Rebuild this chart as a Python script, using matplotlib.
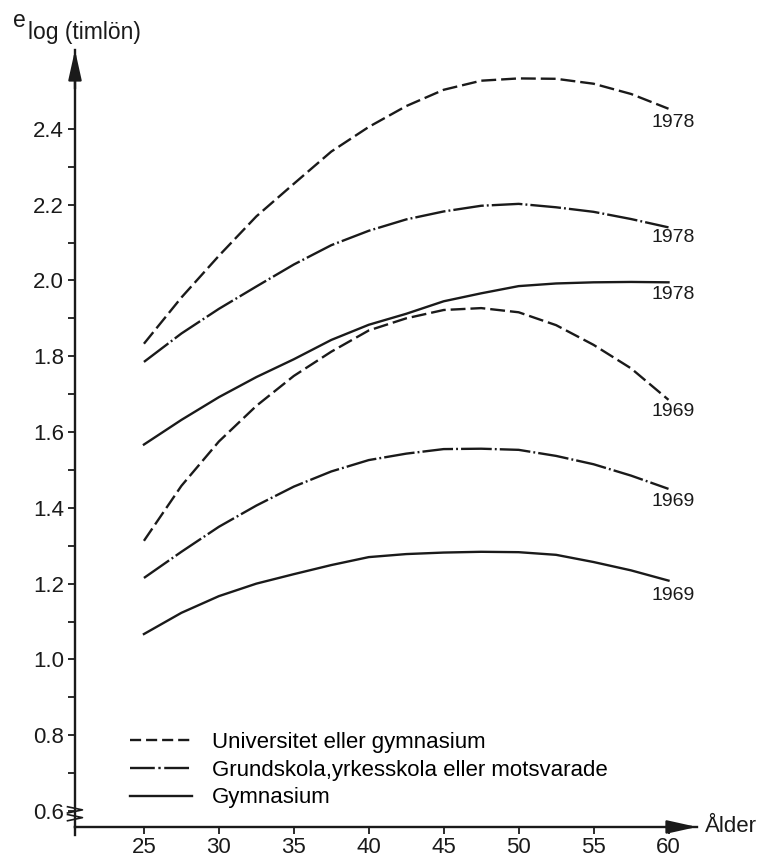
import matplotlib
matplotlib.use("Agg")
from matplotlib import pyplot as plt
from matplotlib.lines import Line2D

plt.rcParams['font.family'] = ['Liberation Sans', 'DejaVu Sans']

ages = [25, 27.5, 30, 32.5, 35, 37.5, 40, 42.5, 45, 47.5, 50, 52.5, 55, 57.5, 60]

univ_1978 = [1.833, 1.955, 2.065, 2.169, 2.255, 2.340, 2.405, 2.460, 2.503, 2.527,
             2.533, 2.532, 2.519, 2.492, 2.453]
grund_1978 = [1.785, 1.860, 1.925, 1.984, 2.042, 2.093, 2.131, 2.161, 2.182, 2.197,
              2.202, 2.193, 2.181, 2.162, 2.140]
gymn_1978 = [1.567, 1.632, 1.692, 1.745, 1.792, 1.843, 1.883, 1.912, 1.945, 1.966,
             1.985, 1.992, 1.995, 1.996, 1.995]
univ_1969 = [1.313, 1.458, 1.575, 1.669, 1.748, 1.812, 1.868, 1.900, 1.922, 1.927,
             1.916, 1.882, 1.830, 1.768, 1.685]
grund_1969 = [1.215, 1.284, 1.350, 1.406, 1.456, 1.496, 1.526, 1.543, 1.555, 1.556,
              1.553, 1.537, 1.515, 1.485, 1.450]
gymn_1969 = [1.067, 1.123, 1.167, 1.200, 1.225, 1.249, 1.270, 1.278, 1.282, 1.284,
             1.283, 1.276, 1.257, 1.235, 1.208]

# year label next to each curve end (y value of label centre)
end_labels = [("1978", 2.416), ("1978", 2.112), ("1978", 1.962),
              ("1969", 1.653), ("1969", 1.416), ("1969", 1.170)]

legend_names = ["Universitet eller gymnasium",
                "Grundskola,yrkesskola eller motsvarade",
                "Gymnasium"]

ink = '#1a1a1a'
dashed = (0, (6.3, 2.1))
dashdot = (0, (13, 1.3, 0.8, 1.3))
lw = 1.7
fs = 16

fig = plt.figure(figsize=(7.66, 8.59), dpi=100)
ax = fig.add_axes([0.0979, 0.0373, 0.812, 0.9045])

for ys, ls in [(univ_1978, dashed), (grund_1978, dashdot), (gymn_1978, '-'),
               (univ_1969, dashed), (grund_1969, dashdot), (gymn_1969, '-')]:
    ax.plot(ages, ys, color=ink, lw=lw, linestyle=ls)

for txt, yv in end_labels:
    ax.text(60.3, yv, txt, fontsize=14, ha='center', va='center', color=ink)

ax.set_xlim(20.4, 61.9)
ax.set_ylim(0.558, 2.608)

for s in ['top', 'right']:
    ax.spines[s].set_visible(False)
for s in ['left', 'bottom']:
    ax.spines[s].set_linewidth(1.7)
    ax.spines[s].set_color(ink)

ax.set_xticks([25, 30, 35, 40, 45, 50, 55, 60])
ax.set_yticks([0.6, 0.8, 1.0, 1.2, 1.4, 1.6, 1.8, 2.0, 2.2, 2.4])
ax.set_yticks([0.7, 0.9, 1.1, 1.3, 1.5, 1.7, 1.9, 2.1, 2.3], minor=True)
ax.set_yticklabels(["0.6", "0.8", "1.0", "1.2", "1.4", "1.6", "1.8", "2.0", "2.2", "2.4"])
ax.tick_params(axis='both', which='both', direction='out', width=1.3, color=ink,
               labelsize=fs, labelcolor=ink)
ax.tick_params(axis='y', which='both', length=5, pad=3)
ax.tick_params(axis='x', length=5, pad=2)

# axis arrows
arrow = dict(arrowstyle='-|>,head_length=0.9,head_width=0.2', color=ink, lw=1.7,
             mutation_scale=20, shrinkA=0, shrinkB=0)
ax.annotate('', xy=(0, 1.0), xytext=(0, 0.95), xycoords='axes fraction',
            arrowprops=arrow)
ax.annotate('', xy=(1.0, 0), xytext=(0.95, 0), xycoords='axes fraction',
            arrowprops=arrow)
# short stub of the y axis below the x axis
ax.plot([0, 0], [0, -0.01], color=ink, lw=1.7, transform=ax.transAxes, clip_on=False)
# axis break mark
for yb in (0.012, 0.022):
    ax.plot([-0.012, 0.012, -0.012], [yb - 0.004, yb, yb + 0.004], color=ink,
            lw=1.2, transform=ax.transAxes, clip_on=False)

ax.text(1.013, 0, "Ålder", transform=ax.transAxes, fontsize=16, ha='left',
        va='center', color=ink)
fig.text(0.017, 0.968, "e", fontsize=16.5, ha='left', va='baseline', color=ink)
fig.text(0.036, 0.955, "log (timlön)", fontsize=16.5, ha='left', va='baseline',
         color=ink)

handles = [Line2D([], [], color=ink, lw=lw, linestyle=(0, (4.7, 2.1))),
           Line2D([], [], color=ink, lw=lw, linestyle=(0, (10.5, 1.5, 1, 1.5))),
           Line2D([], [], color=ink, lw=lw, linestyle='-')]
ax.legend(handles, legend_names, loc='lower left', bbox_to_anchor=(0.088, 0.024),
          frameon=False, fontsize=fs, handlelength=2.8, handletextpad=0.9,
          labelspacing=0.3, borderpad=0, borderaxespad=0)

fig.savefig("out.png", dpi=100)
